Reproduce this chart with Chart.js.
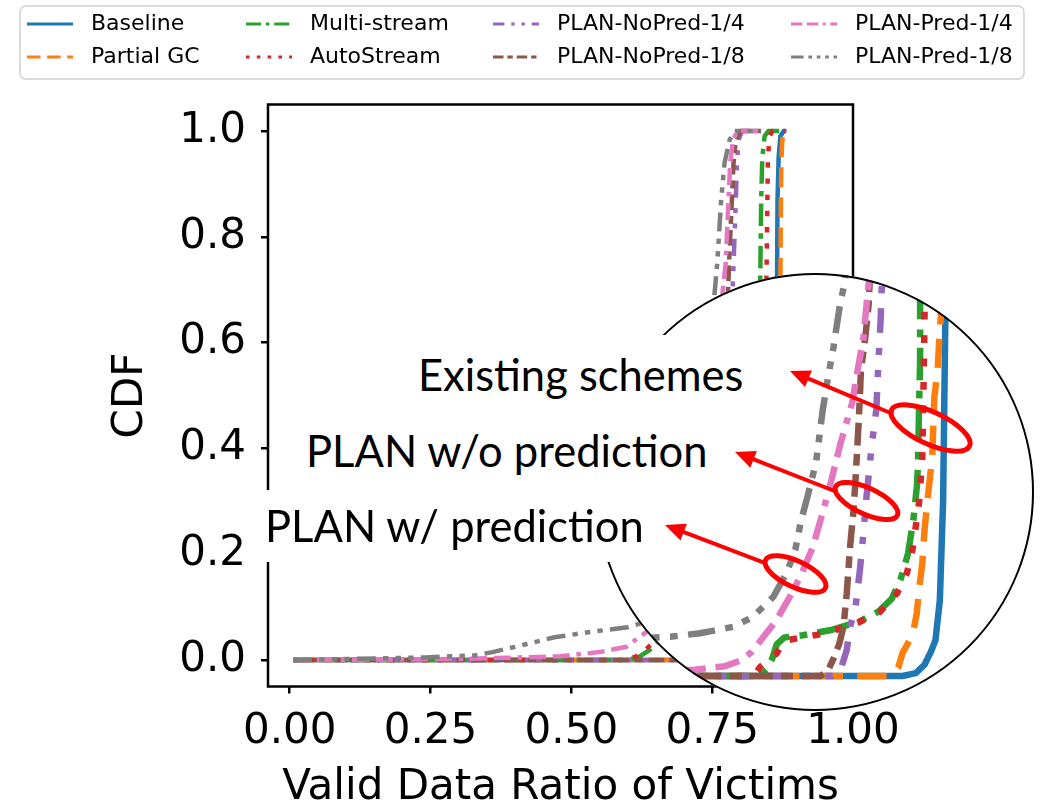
<!DOCTYPE html>
<html lang="en">
<head>
<meta charset="UTF-8">
<title>Valid Data Ratio of Victims</title>
<script src="https://cdn.jsdelivr.net/npm/chart.js@4.4.1/dist/chart.umd.min.js"></script>
<style>
* {
    margin: 0;
    padding: 0;
    box-sizing: border-box;
}
body {
    width: 1040px;
    height: 809px;
    position: relative;
    overflow: hidden;
    background: #fff;
}
canvas {
    display: block;
}
#mainChart {
    position: absolute;
    left: 0;
    top: 0;
}
/* round magnifier laid over the lower right of the plot */
.lens {
    position: absolute;
    left: 596px;
    top: 273px;
    width: 438px;
    height: 438px;
    border-radius: 50%;
}
#lens {
    overflow: hidden;
    background: #fff;
}
#lensRing {
    border: 2px solid #000;
}
.note {
    position: absolute;
    background: #fff;
}
.note span {
    position: absolute;
    font-family: Lato, "Open Sans", sans-serif;
    font-size: 43.5px;
    line-height: 1.2;
    white-space: nowrap;
    color: #000;
}
#marks {
    position: absolute;
    left: 0;
    top: 0;
}
</style>
</head>
<body>
<canvas id="mainChart" width="1040" height="809"></canvas>
<div class="lens" id="lens"><canvas id="zoomChart" width="438" height="438"></canvas></div>
<div class="lens" id="lensRing"></div>
<div class="note" style="left:405px;top:335px;width:360px;height:77px"><span style="left:13px;top:13px">Existing schemes</span></div>
<div class="note" style="left:296px;top:412px;width:425px;height:78px"><span style="left:10px;top:12px">PLAN w/o prediction</span></div>
<div class="note" style="left:257px;top:490px;width:395px;height:72px"><span style="left:8px;top:9px">PLAN w/ prediction</span></div>
<svg id="marks" width="1040" height="809"></svg>

<script>
// ---- data ----
const seriesNames = ['Baseline', 'Partial GC', 'Multi-stream', 'AutoStream',
    'PLAN-NoPred-1/4', 'PLAN-NoPred-1/8', 'PLAN-Pred-1/4', 'PLAN-Pred-1/8'];

// [valid data ratio, CDF] for the full plot
const baselineCdf = [[0.006,0],[0.83,0],[0.85,0.005],[0.858,0.03],[0.862,0.12],[0.864,0.35],[0.865,0.69],[0.866,0.87],[0.868,0.95],[0.871,0.99],[0.877,1],[0.882,1]];
const partialGcCdf = [[0.006,0],[0.81,0],[0.83,0.01],[0.845,0.05],[0.856,0.2],[0.866,0.45],[0.871,0.69],[0.872,0.87],[0.873,0.95],[0.875,0.99],[0.879,1],[0.882,1]];
const multiStreamCdf = [[0.006,0],[0.6,0],[0.62,0.006],[0.639,0.019],[0.651,0.032],[0.67,0.045],[0.7,0.052],[0.74,0.058],[0.78,0.075],[0.81,0.12],[0.825,0.25],[0.832,0.5],[0.835,0.69],[0.837,0.87],[0.839,0.95],[0.843,0.99],[0.85,1],[0.881,1]];
const autoStreamCdf = [[0.006,0],[0.595,0],[0.615,0.007],[0.632,0.02],[0.648,0.035],[0.67,0.046],[0.7,0.052],[0.74,0.057],[0.78,0.072],[0.812,0.11],[0.83,0.22],[0.84,0.45],[0.846,0.69],[0.848,0.87],[0.849,0.95],[0.852,0.99],[0.857,1],[0.879,1]];
const noPred4Cdf = [[0.006,0],[0.72,0],[0.74,0.02],[0.755,0.1],[0.765,0.25],[0.775,0.5],[0.786,0.69],[0.788,0.75],[0.792,0.87],[0.794,0.94],[0.797,0.983],[0.803,1],[0.835,1]];
const noPred8Cdf = [[0.006,0],[0.71,0],[0.73,0.02],[0.748,0.1],[0.758,0.25],[0.77,0.5],[0.778,0.69],[0.78,0.75],[0.785,0.87],[0.788,0.94],[0.792,0.983],[0.8,1],[0.836,1]];
const pred4Cdf = [[0.006,0],[0.3,0.002],[0.48,0.007],[0.55,0.015],[0.598,0.025],[0.621,0.044],[0.64,0.058],[0.68,0.09],[0.71,0.16],[0.735,0.3],[0.755,0.5],[0.768,0.69],[0.774,0.75],[0.779,0.87],[0.782,0.94],[0.787,0.983],[0.795,1],[0.837,1]];
const pred8Cdf = [[0.006,0],[0.24,0.005],[0.33,0.009],[0.36,0.015],[0.4,0.025],[0.47,0.043],[0.54,0.054],[0.6,0.062],[0.625,0.07],[0.66,0.085],[0.7,0.14],[0.725,0.3],[0.742,0.5],[0.754,0.69],[0.759,0.75],[0.766,0.87],[0.772,0.94],[0.781,0.983],[0.79,1],[0.837,1]];

// magnified curves shown inside the round inset
const baselineZoom = [[0.55,0],[0.83,0],[0.842,0.004],[0.85,0.016],[0.856,0.035],[0.86,0.051],[0.864,0.108],[0.867,0.25],[0.869,0.508],[0.87,0.6]];
const partialGcZoom = [[0.55,0],[0.816,0],[0.822,0.004],[0.826,0.012],[0.83,0.033],[0.836,0.05],[0.84,0.065],[0.843,0.09],[0.845,0.123],[0.848,0.161],[0.85,0.208],[0.853,0.255],[0.857,0.312],[0.859,0.398],[0.862,0.437],[0.864,0.494],[0.866,0.536],[0.867,0.6]];
const multiStreamZoom = [[0.55,0],[0.7,0],[0.706,0.009],[0.711,0.025],[0.715,0.045],[0.722,0.055],[0.739,0.058],[0.766,0.066],[0.791,0.078],[0.808,0.092],[0.82,0.11],[0.828,0.137],[0.835,0.175],[0.84,0.225],[0.843,0.27],[0.844,0.3],[0.845,0.38],[0.846,0.45],[0.846,0.6]];
const autoStreamZoom = [[0.55,0],[0.694,0],[0.7,0.013],[0.715,0.032],[0.721,0.05],[0.735,0.054],[0.76,0.061],[0.789,0.076],[0.809,0.091],[0.825,0.118],[0.834,0.147],[0.839,0.18],[0.842,0.213],[0.845,0.247],[0.848,0.311],[0.849,0.4],[0.85,0.511],[0.851,0.6]];
const noPred4Zoom = [[0.55,0],[0.766,0],[0.773,0.007],[0.779,0.037],[0.782,0.07],[0.787,0.098],[0.791,0.151],[0.794,0.2],[0.797,0.255],[0.802,0.332],[0.806,0.38],[0.808,0.451],[0.81,0.51],[0.812,0.6]];
const noPred8Zoom = [[0.55,0],[0.755,0],[0.762,0.008],[0.767,0.025],[0.772,0.045],[0.776,0.07],[0.779,0.118],[0.782,0.184],[0.785,0.233],[0.787,0.28],[0.79,0.365],[0.792,0.437],[0.796,0.484],[0.799,0.53],[0.801,0.6]];
const pred4Zoom = [[0.55,0.005],[0.64,0.009],[0.668,0.014],[0.682,0.022],[0.692,0.034],[0.7,0.05],[0.715,0.08],[0.727,0.113],[0.737,0.143],[0.748,0.184],[0.755,0.222],[0.762,0.261],[0.773,0.33],[0.784,0.39],[0.789,0.437],[0.794,0.48],[0.799,0.56],[0.801,0.6]];
const pred8Zoom = [[0.55,0.05],[0.618,0.056],[0.645,0.061],[0.675,0.07],[0.693,0.084],[0.712,0.113],[0.724,0.147],[0.732,0.18],[0.737,0.22],[0.743,0.255],[0.751,0.305],[0.757,0.379],[0.762,0.427],[0.767,0.47],[0.773,0.532],[0.777,0.56],[0.78,0.6]];

const xTickValues = [0, 0.25, 0.5, 0.75, 1.0];
const yTickValues = [0, 0.2, 0.4, 0.6, 0.8, 1.0];

// ---- styles ----
const seriesColors = ['#1f77b4', '#ff7f0e', '#2ca02c', '#d62728', '#9467bd', '#8c564b', '#e377c2', '#7f7f7f'];
// dash patterns in multiples of the line width
const dashUnits = [
    [],
    [4.5, 2.2],
    [5, 1.6, 1.2, 1.6],
    [1.2, 2.4],
    [3.8, 2.3, 1.1, 2.3, 1.1, 2.3],
    [3.5, 1.3, 1.8, 1.3],
    [3.8, 1.5, 3.8, 1.5, 1, 1.5],
    [4.2, 1.6, 1.2, 1.6, 1.2, 1.6, 1.2, 1.6]
];

Chart.defaults.font.family = '"DejaVu Sans", sans-serif';
Chart.defaults.color = '#000';

function makeSets(lists, lw) {
    return lists.map(function(pts, i) {
        return {
            label: seriesNames[i],
            data: pts.map(function(p) { return { x: p[0], y: p[1] }; }),
            showLine: true,
            borderColor: seriesColors[i],
            backgroundColor: seriesColors[i],
            borderWidth: lw,
            borderDash: dashUnits[i].map(function(d) { return d * lw; }),
            borderJoinStyle: 'round',
            pointRadius: 0,
            pointHoverRadius: 0,
            tension: 0,
            order: lists.length - i
        };
    });
}

// four spines drawn over the lines, like matplotlib
const framePlugin = {
    id: 'frame',
    afterDatasetsDraw(chart) {
        const ctx = chart.ctx, a = chart.chartArea;
        ctx.save();
        ctx.strokeStyle = '#000';
        ctx.lineWidth = 2.5;
        ctx.strokeRect(a.left, a.top, a.right - a.left, a.bottom - a.top);
        ctx.restore();
    }
};

// 4 x 2 legend, filled column by column
const legendCols = [27, 246, 493, 791];
const legendRows = [24, 57];
const legendPlugin = {
    id: 'legendBox',
    afterDraw(chart) {
        const ctx = chart.ctx;
        const handle = 46, textOffset = 64, lw = 3;
        ctx.save();
        ctx.beginPath();
        ctx.roundRect(20, 6, 1004, 73, 6);
        ctx.fillStyle = '#fff';
        ctx.fill();
        ctx.strokeStyle = '#d0d0d0';
        ctx.lineWidth = 1.5;
        ctx.stroke();
        ctx.font = '22px "DejaVu Sans"';
        ctx.textBaseline = 'middle';
        seriesNames.forEach(function(name, k) {
            const x = legendCols[Math.floor(k / 2)], y = legendRows[k % 2];
            ctx.strokeStyle = seriesColors[k];
            ctx.lineWidth = lw;
            ctx.setLineDash(dashUnits[k].map(function(d) { return d * lw; }));
            ctx.beginPath();
            ctx.moveTo(x, y);
            ctx.lineTo(x + handle, y);
            ctx.stroke();
            ctx.setLineDash([]);
            ctx.fillStyle = '#000';
            ctx.fillText(name, x + textOffset, y + 0.5);
        });
        ctx.restore();
    }
};

const tickGrid = { drawOnChartArea: false, tickLength: 7, lineWidth: 2.5, color: '#000' };

new Chart(document.getElementById('mainChart'), {
    type: 'scatter',
    data: {
        datasets: makeSets([baselineCdf, partialGcCdf, multiStreamCdf, autoStreamCdf,
            noPred4Cdf, noPred8Cdf, pred4Cdf, pred8Cdf], 4.5)
    },
    options: {
        responsive: false,
        animation: false,
        events: [],
        layout: { padding: { left: 0, top: 104.5, right: 187, bottom: 0 } },
        plugins: { legend: { display: false }, tooltip: { enabled: false } },
        scales: {
            x: {
                type: 'linear',
                min: -0.0385,
                max: 1.0,
                afterBuildTicks: function(s) { s.ticks = xTickValues.map(function(v) { return { value: v }; }); },
                afterFit: function(s) { s.height = 122.5; },
                ticks: { font: { size: 42 }, padding: 13.3, maxRotation: 0, autoSkip: false,
                    callback: function(v) { return v.toFixed(2); } },
                grid: tickGrid,
                border: { display: false },
                title: { display: true, text: 'Valid Data Ratio of Victims',
                    font: { size: 42, lineHeight: 1 }, padding: { top: 0, bottom: 0 } }
            },
            y: {
                type: 'linear',
                min: -0.05,
                max: 1.05,
                afterBuildTicks: function(s) { s.ticks = yTickValues.map(function(v) { return { value: v }; }); },
                afterFit: function(s) { s.width = 268; },
                ticks: { font: { size: 42 }, padding: 15, autoSkip: false,
                    callback: function(v) { return v.toFixed(1); } },
                grid: tickGrid,
                border: { display: false },
                title: { display: true, text: 'CDF',
                    font: { size: 42, lineHeight: 1 }, padding: { top: 110, bottom: 0 } }
            }
        }
    },
    plugins: [framePlugin, legendPlugin]
});

// the magnified view, clipped to the circle by its div
new Chart(document.getElementById('zoomChart'), {
    type: 'scatter',
    data: {
        datasets: makeSets([baselineZoom, partialGcZoom, multiStreamZoom, autoStreamZoom,
            noPred4Zoom, noPred8Zoom, pred4Zoom, pred8Zoom], 6.5)
    },
    options: {
        responsive: false,
        animation: false,
        events: [],
        layout: { padding: 0 },
        plugins: { legend: { display: false }, tooltip: { enabled: false } },
        scales: {
            x: { type: 'linear', display: false, min: 0.55, max: 0.95 },
            y: { type: 'linear', display: false, min: -0.05, max: 0.575 }
        }
    }
});

// red call-outs: ellipse [cx, cy, rx, ry] and arrow [tailX, tailY, tipX, tipY]
const rings = [[930.5, 428, 43, 16], [866.5, 501, 34, 13], [795.5, 574, 33, 13]];
const arrows = [[893, 414, 790, 371], [837, 492, 735, 452], [765, 563, 665, 525]];
const svg = document.getElementById('marks');
let markup = '';
rings.forEach(function(r) {
    markup += '<ellipse cx="' + r[0] + '" cy="' + r[1] + '" rx="' + r[2] + '" ry="' + r[3] +
        '" transform="rotate(25 ' + r[0] + ' ' + r[1] + ')" fill="none" stroke="#ff0000" stroke-width="5"/>';
});
arrows.forEach(function(a) {
    const dx = a[2] - a[0], dy = a[3] - a[1];
    const len = Math.hypot(dx, dy), ux = dx / len, uy = dy / len;
    const headLen = 20, headHalf = 9;
    const bx = a[2] - ux * headLen, by = a[3] - uy * headLen;
    markup += '<line x1="' + a[0] + '" y1="' + a[1] + '" x2="' + (bx + ux * 4) + '" y2="' + (by + uy * 4) +
        '" stroke="#ff0000" stroke-width="4"/>';
    markup += '<polygon points="' + a[2] + ',' + a[3] + ' ' + (bx - uy * headHalf) + ',' + (by + ux * headHalf) +
        ' ' + (bx + uy * headHalf) + ',' + (by - ux * headHalf) + '" fill="#ff0000"/>';
});
svg.innerHTML = markup;
</script>
</body>
</html>
